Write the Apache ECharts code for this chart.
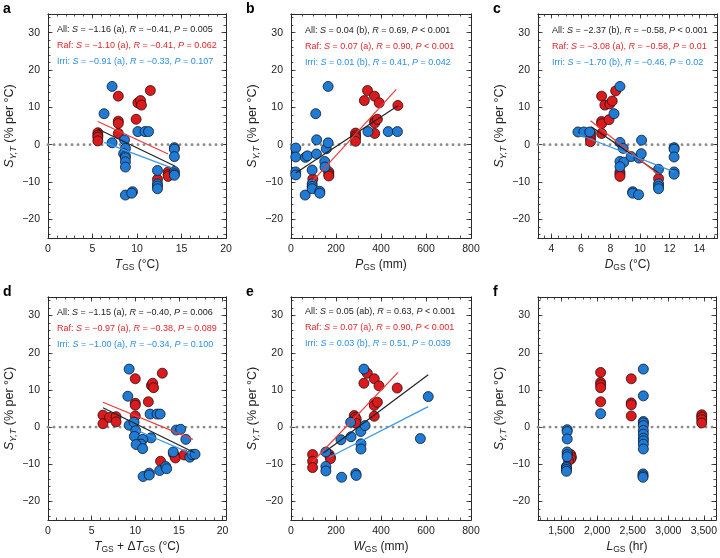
<!DOCTYPE html>
<html>
<head>
<meta charset="utf-8">
<script src="https://cdn.jsdelivr.net/npm/echarts@6/dist/echarts.min.js"></script>
<style>
  html, body { margin: 0; padding: 0; background: #fff; }
  #chart { width: 720px; height: 558px; }
</style>
</head>
<body>
<div id="chart"></div>
<script>
// ---- data ----
const yTickValues = [-20, -10, 0, 10, 20, 30];

// a: T_GS
const aRaf = [[5.6,3.2],[5.6,2.5],[5.6,2.0],[5.6,1.0],[7.9,13.0],[7.9,6.3],[7.9,5.7],[7.9,3.0],[9.9,6.8],[10.1,11.2],[10.4,11.8],[10.5,10.6],[11.5,14.5],[12.3,-9.3],[13.5,-7.3],[13.5,-8.0],[13.5,-8.5]];
const aIrri = [[7.2,15.6],[6.3,8.3],[7.2,0.5],[8.6,1.3],[8.7,-1.0],[8.5,-2.4],[8.7,-3.0],[8.7,-3.5],[8.7,-4.6],[8.7,-6.0],[8.7,-13.5],[9.5,-12.6],[9.4,-13.0],[10.1,3.5],[10.9,3.5],[11.3,3.5],[12.3,-6.9],[12.3,-10.5],[12.3,-11.1],[12.3,-11.8],[14.2,-0.8],[14.2,-1.2],[14.2,-3.2],[14.2,-7.2],[14.2,-7.8],[14.2,-8.2]];
const aFitAll = [[5.6,4.2],[14.3,-5.8]];
const aFitRaf = [[5.6,6.2],[13.5,-2.5]];
const aFitIrri = [[6.3,0.6],[13.9,-6.2]];
const aXTicks = [0, 5, 10, 15, 20];
const aNotes = ['All: {i|S} = −1.16 (a), {i|R} = −0.41, {i|P} = 0.005', 'Raf: {i|S} = −1.10 (a), {i|R} = −0.41, {i|P} = 0.062', 'Irri: {i|S} = −0.91 (a), {i|R} = −0.33, {i|P} = 0.107'];

// b: P_GS
const bRaf = [[97,-9.2],[168,-7.3],[168,-7.9],[168,-8.4],[287,3.1],[287,2.4],[287,1.9],[287,0.9],[326,11.8],[340,14.5],[371,13.0],[392,11.2],[372,6.3],[372,5.8],[384,6.8],[372,3.0],[475,10.5]];
const bIrri = [[21,-0.9],[21,-3.3],[21,-7.3],[21,-8.1],[63,-13.5],[64,-3.4],[73,-3.0],[94,-6.8],[94,-10.5],[94,-11.2],[94,-11.8],[110,8.3],[114,1.3],[113,-2.5],[128,-12.5],[128,-13.0],[150,-4.5],[151,-6.0],[157,-1.1],[165,15.6],[165,0.5],[342,3.5],[432,3.5],[473,3.5]];
const bFitAll = [[21,-7.6],[475,10.4]];
const bFitRaf = [[97,-9.7],[468,14.8]];
const bXTicks = [0, 200, 400, 600, 800];
const bNotes = ['All: {i|S} = 0.04 (b), {i|R} = 0.69, {i|P} < 0.001', 'Raf: {i|S} = 0.07 (a), {i|R} = 0.90, {i|P} < 0.001', 'Irri: {i|S} = 0.01 (b), {i|R} = 0.41, {i|P} = 0.042'];

// c: D_GS
const cRaf = [[6.65,3.2],[6.65,2.3],[6.65,1.6],[6.65,0.8],[7.4,13.0],[7.4,6.2],[7.4,5.6],[7.4,3.0],[7.62,10.6],[7.95,10.9],[8.12,11.7],[8.35,14.4],[7.9,6.7],[8.64,-7.3],[8.64,-7.9],[8.64,-8.5],[11.25,-9.1]];
const cIrri = [[5.8,3.4],[6.2,3.4],[6.6,3.4],[8.64,15.6],[8.24,8.3],[8.64,0.6],[8.86,-1.0],[8.64,-4.5],[8.9,-4.7],[8.64,-5.9],[9.4,-3.2],[9.93,-3.6],[10.08,-2.4],[10.1,1.2],[9.5,-12.6],[9.5,-13.0],[9.9,-13.4],[11.25,-6.6],[11.25,-10.5],[11.25,-11.2],[11.25,-11.8],[12.3,-0.8],[12.3,-1.2],[12.3,-3.3],[12.3,-7.3],[12.3,-7.9]];
const cFitAll = [[6.7,4.8],[11.25,-7.6]];
const cFitRaf = [[6.65,6.4],[11.25,-8.0]];
const cFitIrri = [[5.8,2.8],[12.3,-7.3]];
const cXTicks = [4, 6, 8, 10, 12, 14];
const cNotes = ['All: {i|S} = −2.37 (b), {i|R} = −0.58, {i|P} < 0.001', 'Raf: {i|S} = −3.08 (a), {i|R} = −0.58, {i|P} = 0.01', 'Irri: {i|S} = −1.70 (b), {i|R} = −0.46, {i|P} = 0.02'];

// d: T_GS + dT_GS
const dRaf = [[6.3,3.2],[6.3,0.9],[7.05,2.6],[7.8,2.8],[7.8,1.4],[10.0,13.0],[10.0,6.4],[10.0,5.9],[10.0,3.0],[11.5,6.8],[11.85,11.2],[12.0,11.8],[12.1,10.6],[13.1,14.5],[12.9,-9.2],[14.4,-7.3],[14.6,-8.3],[15.6,-7.5]];
const dIrri = [[9.3,15.6],[9.15,8.3],[9.3,0.5],[9.86,1.3],[10.05,-1.0],[9.9,-2.5],[11.8,-2.9],[10.85,-3.3],[10.66,-4.6],[10.1,-4.7],[10.85,-5.8],[11.7,3.5],[12.5,3.5],[12.85,3.5],[14.7,-0.8],[15.2,-0.6],[15.8,-3.3],[14.35,-6.7],[16.25,-8.1],[16.5,-7.4],[16.85,-7.3],[10.9,-13.3],[11.6,-12.4],[11.6,-12.9],[12.8,-11.7],[13.5,-10.6],[13.6,-11.2]];
const dFitAll = [[6.3,5.2],[16.8,-6.9]];
const dFitRaf = [[6.3,6.7],[16.6,-3.3]];
const dFitIrri = [[10.3,-1.0],[16.3,-7.0]];
const dXTicks = [0, 5, 10, 15, 20];
const dNotes = ['All: {i|S} = −1.15 (a), {i|R} = −0.40, {i|P} = 0.006', 'Raf: {i|S} = −0.97 (a), {i|R} = −0.38, {i|P} = 0.089', 'Irri: {i|S} = −1.00 (a), {i|R} = −0.34, {i|P} = 0.100'];

// e: W_GS
const eRaf = [[96,-7.4],[96,-9.2],[96,-10.9],[170,-7.4],[175,-8.1],[175,-8.5],[281,3.1],[286,2.6],[290,2.1],[290,1.0],[339,14.5],[324,11.8],[370,13.0],[391,11.1],[370,6.5],[370,5.8],[384,6.7],[370,2.9],[472,10.5]];
const eIrri = [[155,-6.7],[155,-10.6],[155,-11.8],[222,-3.4],[265,1.3],[267,-2.6],[310,-1.2],[329,0.4],[311,-4.5],[311,-5.9],[324,15.6],[610,8.2],[575,-3.1],[225,-13.5],[288,-12.5],[290,-13.0]];
const eFitAll = [[144,-7.0],[610,14.1]];
const eFitRaf = [[95,-9.4],[476,14.7]];
const eFitIrri = [[170,-8.1],[610,5.5]];
const eXTicks = [0, 200, 400, 600, 800];
const eNotes = ['All: {i|S} = 0.05 (ab), {i|R} = 0.63, {i|P} < 0.001', 'Raf: {i|S} = 0.07 (a), {i|R} = 0.90, {i|P} < 0.001', 'Irri: {i|S} = 0.03 (b), {i|R} = 0.51, {i|P} = 0.039'];

// f: L_GS
const fRaf = [[1630,-7.4],[1640,-8.1],[1630,-8.6],[1600,-9.0],[2050,14.7],[2050,12.0],[2050,11.4],[2050,10.6],[2050,6.8],[2480,13.0],[2480,6.5],[2480,6.0],[2480,3.0],[3470,3.3],[3470,2.7],[3470,2.0],[3470,1.1]];
const fIrri = [[1580,-0.7],[1580,-1.2],[1580,-3.2],[1580,-6.7],[1580,-7.4],[1580,-8.0],[1570,-10.6],[1570,-10.9],[1570,-11.4],[1570,-11.9],[2050,3.6],[2650,15.6],[2650,8.4],[2650,1.5],[2650,1.1],[2650,0.4],[2650,-0.9],[2650,-1.9],[2650,-3.0],[2650,-3.7],[2650,-4.6],[2650,-5.9],[2645,-12.6],[2645,-13.1],[2645,-13.5]];
const fXTicks = [1500, 2000, 2500, 3000, 3500];

// ---- styling ----
const FONT = "'Liberation Sans', Arial, Helvetica, sans-serif";
const RED = '#da1a1c', BLUE = '#1f7bd3';
const RED_LINE = '#ec3b3d', BLUE_LINE = '#3a97e6', BLACK_LINE = '#222';
const RED_TXT = '#e2262a', BLUE_TXT = '#2a8fe2', BLACK_TXT = '#222';

const grids = [
  { left: 48, top: 14, width: 178, height: 224 },
  { left: 291, top: 14, width: 180, height: 224 },
  { left: 538, top: 14, width: 179, height: 224 },
  { left: 48, top: 297, width: 178, height: 223 },
  { left: 291, top: 297, width: 180, height: 223 },
  { left: 538, top: 297, width: 179, height: 223 }
];

const yName = '{i|S}{is|Y,T} (% per °C)';
const panels = [
  { letter: 'a', xr: [0, 20], xt: aXTicks, xm: 1, xname: '{i|T}{s|GS} (°C)', raf: aRaf, irri: aIrri, fits: [aFitAll, aFitRaf, aFitIrri], notes: aNotes, nx: 57, ny: 24 },
  { letter: 'b', xr: [0, 800], xt: bXTicks, xm: 50, xname: '{i|P}{s|GS} (mm)', raf: bRaf, irri: bIrri, fits: [bFitAll, bFitRaf, null], notes: bNotes, nx: 305, ny: 25 },
  { letter: 'c', xr: [3.1, 15.2], xt: cXTicks, xm: 0.5, xname: '{i|D}{s|GS} (°C)', raf: cRaf, irri: cIrri, fits: [cFitAll, cFitRaf, cFitIrri], notes: cNotes, nx: 552, ny: 25 },
  { letter: 'd', xr: [0, 20.4], xt: dXTicks, xm: 1, xname: '{i|T}{s|GS} + Δ{i|T}{s|GS} (°C)', raf: dRaf, irri: dIrri, fits: [dFitAll, dFitRaf, dFitIrri], notes: dNotes, nx: 57, ny: 307 },
  { letter: 'e', xr: [0, 800], xt: eXTicks, xm: 50, xname: '{i|W}{s|GS} (mm)', raf: eRaf, irri: eIrri, fits: [eFitAll, eFitRaf, eFitIrri], notes: eNotes, nx: 305, ny: 306 },
  { letter: 'f', xr: [1170, 3670], xt: fXTicks, xm: 100, xname: '{i|L}{s|GS} (hr)', raf: fRaf, irri: fIrri, fits: [null, null, null], notes: null, nx: 0, ny: 0 }
];

function steps(min, max, step) {
  const out = [];
  for (let k = Math.ceil(min / step - 1e-9); k * step <= max + 1e-9; k++) out.push(+(k * step).toFixed(4));
  return out;
}
function fmt(v) {
  if (v >= 1000) return String(v).replace(/\B(?=(\d{3})+(?!\d))/g, ',');
  return v < 0 ? '−' + Math.abs(v) : String(v);
}
const xNameRich = {
  i: { fontStyle: 'italic', fontSize: 12, color: '#222', fontFamily: FONT },
  s: { fontSize: 8.5, color: '#222', fontFamily: FONT, padding: [6, 0, 0, 0] }
};
const yNameRich = {
  i: { fontStyle: 'italic', fontSize: 12.5, color: '#222', fontFamily: FONT },
  is: { fontStyle: 'italic', fontSize: 9, color: '#222', fontFamily: FONT, padding: [7, 0, 0, 0] }
};

const xAxes = [], yAxes = [], series = [], titles = [];

function addAxis(list, gi, pos, range, ticks, len, label, extra) {
  list.push(Object.assign({
    type: 'value', gridIndex: gi, position: pos, min: range[0], max: range[1],
    axisLine: { show: true, onZero: false, lineStyle: { color: '#222', width: 0.8 } },
    axisTick: { show: true, inside: true, length: len, customValues: ticks, lineStyle: { color: '#222', width: 0.8 } },
    axisLabel: label ? { show: true, customValues: ticks, formatter: fmt, fontSize: 10.5, color: '#222', fontFamily: FONT, margin: label } : { show: false },
    splitLine: { show: false }
  }, extra || {}));
  return list.length - 1;
}

panels.forEach((p, g) => {
  const yr = [-25, 35];
  const xi = addAxis(xAxes, g, 'bottom', p.xr, p.xt, 4.5, 6, {
    name: p.xname, nameLocation: 'middle', nameGap: 19,
    nameTextStyle: { fontSize: 12, color: '#222', fontFamily: FONT, rich: xNameRich }
  });
  addAxis(xAxes, g, 'bottom', p.xr, steps(p.xr[0], p.xr[1], p.xm), 2.5, 0);
  addAxis(xAxes, g, 'top', p.xr, p.xt, 4.5, 0);
  addAxis(xAxes, g, 'top', p.xr, steps(p.xr[0], p.xr[1], p.xm), 2.5, 0);
  const yi = addAxis(yAxes, g, 'left', yr, yTickValues, 4.5, 8, {
    name: yName, nameLocation: 'middle', nameGap: 30, nameRotate: 90,
    nameTextStyle: { fontSize: 12.5, color: '#222', fontFamily: FONT, rich: yNameRich }
  });
  addAxis(yAxes, g, 'left', yr, steps(yr[0], yr[1], 2), 2.5, 0);
  addAxis(yAxes, g, 'right', yr, yTickValues, 4.5, 0);
  addAxis(yAxes, g, 'right', yr, steps(yr[0], yr[1], 2), 2.5, 0);

  // dotted zero line
  series.push({
    type: 'line', xAxisIndex: xi, yAxisIndex: yi, data: [[p.xr[0], 0], [p.xr[1], 0]],
    symbol: 'none', silent: true, z: 1,
    lineStyle: { color: '#8c8c8c', width: 2.8, type: [0.1, 5.9], cap: 'round' }
  });
  series.push({
    type: 'scatter', xAxisIndex: xi, yAxisIndex: yi, data: p.raf, symbolSize: 10, z: 2,
    itemStyle: { color: RED, borderColor: '#2a1010', borderWidth: 0.8, opacity: 1 }
  });
  series.push({
    type: 'scatter', xAxisIndex: xi, yAxisIndex: yi, data: p.irri, symbolSize: 10, z: 3,
    itemStyle: { color: BLUE, borderColor: '#10182a', borderWidth: 0.8, opacity: 1 }
  });
  [BLACK_LINE, RED_LINE, BLUE_LINE].forEach((c, k) => {
    if (!p.fits[k]) return;
    series.push({
      type: 'line', xAxisIndex: xi, yAxisIndex: yi, data: p.fits[k], symbol: 'none', z: 4, silent: true,
      lineStyle: { color: c, width: 1.2 }
    });
  });

  const gr = grids[g];
  titles.push({
    text: p.letter, left: gr.left - 45, top: gr.top - 12, padding: 0,
    textStyle: { fontSize: 14, fontWeight: 'bold', color: '#000', fontFamily: FONT }
  });
  if (p.notes) {
    [BLACK_TXT, RED_TXT, BLUE_TXT].forEach((c, k) => {
      titles.push({
        text: p.notes[k], left: p.nx, top: p.ny + k * 16, padding: 0,
        textStyle: {
          fontSize: 9, fontWeight: 'normal', color: c, fontFamily: FONT, lineHeight: 11,
          rich: { i: { fontStyle: 'italic', fontSize: 9, color: c, fontFamily: FONT } }
        }
      });
    });
  }
});

const chart = echarts.init(document.getElementById('chart'));
chart.setOption({
  animation: false,
  backgroundColor: '#fff',
  grid: grids,
  xAxis: xAxes,
  yAxis: yAxes,
  title: titles,
  series: series
});
</script>
</body>
</html>
